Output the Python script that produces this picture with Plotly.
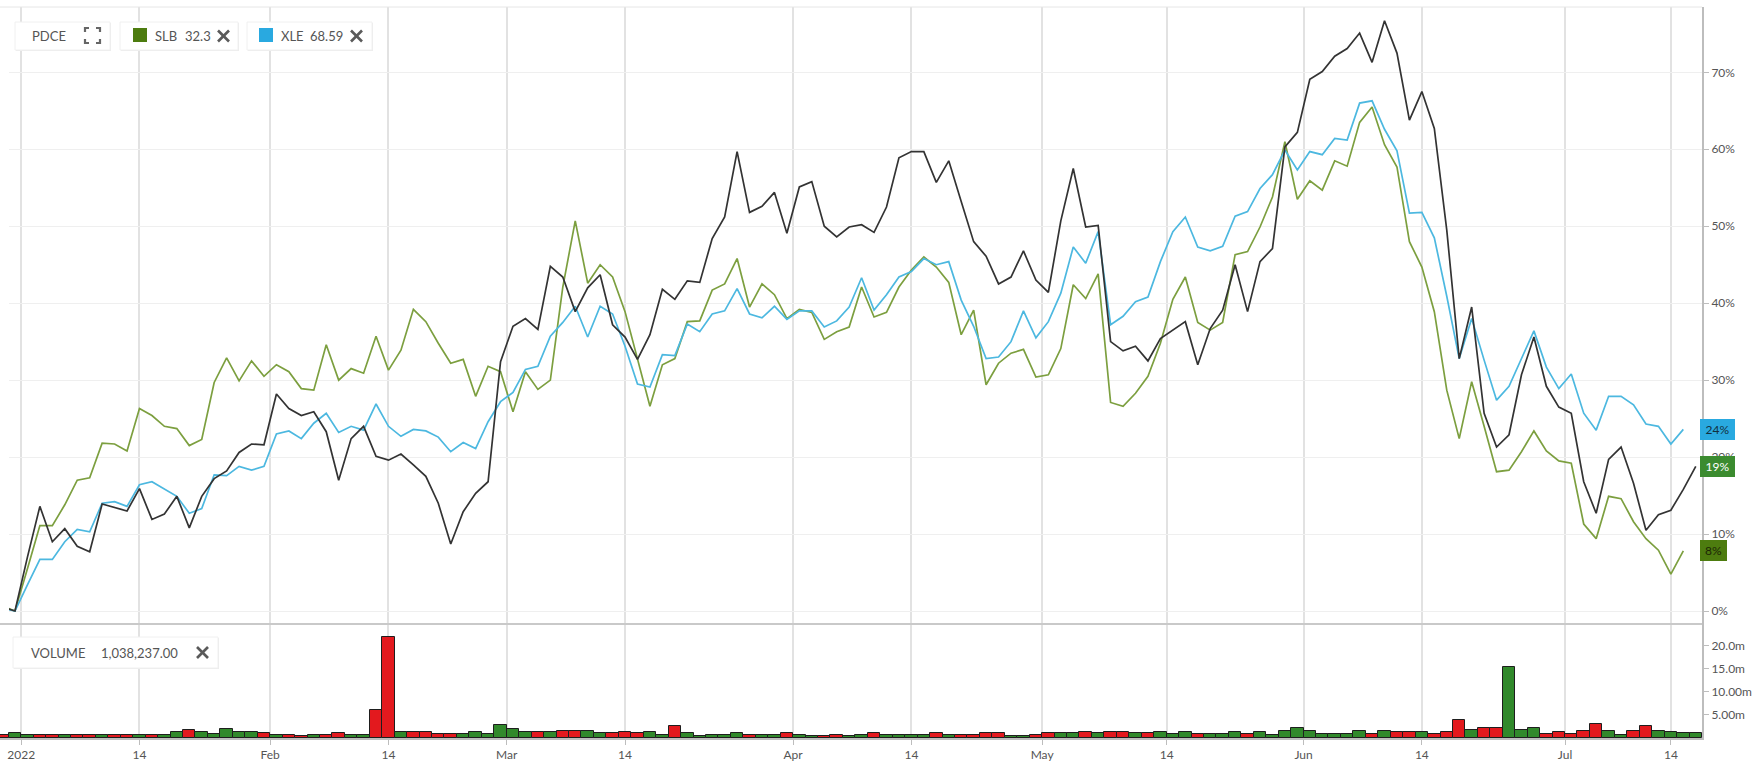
import pandas as pd
import plotly.graph_objects as go

# ---------------------------------------------------------------------------
# Trading sessions (NYSE), 2021-12-30 .. 2022-07-18
# ---------------------------------------------------------------------------
HOLIDAYS = ["2022-01-17", "2022-02-21", "2022-04-15", "2022-05-30", "2022-06-20", "2022-07-04"]
sessions = pd.DatetimeIndex(
    [d for d in pd.bdate_range("2021-12-30", "2022-07-18") if d.strftime("%Y-%m-%d") not in HOLIDAYS]
)

# Percent change since 2021-12-31 close
pdce_pct = [
    0.5, 0.0, 7.0, 13.6, 9.0, 10.7, 8.4, 7.7, 13.9, 13.4,
    13.0, 15.9, 11.9, 12.6, 14.9, 10.8, 14.9, 17.2, 18.2, 20.6,
    21.7, 21.6, 28.2, 26.3, 25.4, 25.9, 23.3, 17.0, 22.4, 24.0,
    20.1, 19.6, 20.4, 19.0, 17.5, 14.0, 8.7, 12.9, 15.3, 16.8,
    32.4, 37.0, 38.0, 36.6, 44.8, 43.4, 38.9, 42.0, 43.7, 37.2,
    35.6, 32.7, 35.9, 41.8, 40.5, 42.9, 42.7, 48.4, 51.2, 59.7,
    51.8, 52.6, 54.4, 49.1, 55.1, 55.8, 50.0, 48.6, 49.9, 50.2,
    49.2, 52.5, 58.9, 59.7, 59.7, 55.7, 58.5, 53.2, 48.0, 46.1,
    42.5, 43.4, 46.8, 43.0, 41.4, 50.7, 57.5, 49.9, 50.1, 35.0,
    33.8, 34.4, 32.5, 35.4, 36.5, 37.6, 32.0, 36.7, 39.1, 45.0,
    38.9, 45.4, 47.1, 60.3, 62.2, 69.1, 70.1, 72.1, 73.1, 75.1,
    71.3, 76.7, 72.5, 63.8, 67.5, 62.7, 49.5, 32.8, 39.5, 25.7,
    21.3, 22.9, 30.7, 35.6, 29.2, 26.5, 25.7, 16.8, 12.7, 19.7,
    21.3, 16.6, 10.5, 12.5, 13.1, 15.8, 18.8,
]

xle_pct = [
    0.4, 0.0, 3.4, 6.7, 6.7, 9.0, 10.6, 10.3, 14.0, 14.2,
    13.6, 16.4, 16.8, 15.9, 14.9, 12.7, 13.3, 17.7, 17.6, 18.8,
    18.3, 18.8, 23.0, 23.4, 22.4, 24.4, 25.7, 23.2, 24.0, 23.5,
    26.9, 24.0, 22.7, 23.6, 23.4, 22.6, 20.7, 21.9, 21.1, 24.6,
    27.2, 28.4, 31.4, 31.8, 35.7, 37.5, 39.6, 35.6, 39.6, 38.6,
    34.4, 29.5, 29.1, 33.3, 33.2, 37.3, 36.3, 38.6, 39.0, 41.9,
    38.6, 38.1, 39.6, 37.9, 39.0, 39.0, 36.9, 37.7, 39.5, 43.3,
    39.1, 41.1, 43.4, 44.1, 45.8, 45.0, 45.4, 40.4, 37.0, 32.8,
    33.0, 35.0, 39.0, 35.5, 37.6, 41.3, 47.3, 45.2, 49.3, 37.2,
    38.3, 40.2, 40.8, 45.4, 49.3, 51.2, 47.3, 46.8, 47.4, 51.3,
    51.9, 54.9, 56.7, 59.9, 57.3, 59.7, 59.3, 61.4, 61.2, 66.0,
    66.3, 62.6, 59.8, 51.7, 51.8, 48.5, 40.9, 32.8, 38.0, 32.6,
    27.4, 29.2, 32.8, 36.4, 31.7, 28.9, 30.8, 25.7, 23.5, 27.9,
    27.9, 26.8, 24.3, 24.0, 21.7, 23.6,
]

slb_pct = [
    0.6, 0.0, 5.5, 11.1, 11.1, 13.8, 17.0, 17.3, 21.8, 21.7,
    20.8, 26.3, 25.4, 24.0, 23.7, 21.5, 22.3, 29.7, 32.9, 29.9,
    32.5, 30.5, 32.0, 31.1, 28.9, 28.7, 34.6, 30.0, 31.5, 30.9,
    35.7, 31.3, 33.9, 39.2, 37.6, 34.8, 32.2, 32.7, 27.9, 31.8,
    31.1, 25.9, 31.1, 28.8, 30.0, 42.1, 50.7, 42.6, 45.0, 43.4,
    38.9, 32.8, 26.6, 32.0, 32.8, 37.6, 37.7, 41.7, 42.5, 45.8,
    39.5, 42.5, 41.1, 38.0, 39.2, 38.8, 35.3, 36.3, 36.9, 42.1,
    38.2, 38.8, 42.1, 44.3, 46.0, 44.7, 42.7, 35.9, 39.1, 29.4,
    32.2, 33.5, 34.0, 30.4, 30.7, 34.1, 42.4, 40.6, 43.8, 27.1,
    26.6, 28.3, 30.5, 34.8, 40.5, 43.4, 37.5, 36.5, 37.5, 46.3,
    46.7, 49.9, 53.8, 61.0, 53.5, 55.9, 54.7, 58.5, 57.8, 63.5,
    65.5, 60.6, 57.7, 48.0, 44.7, 38.9, 28.7, 22.4, 29.8, 24.0,
    18.1, 18.3, 20.7, 23.4, 20.8, 19.5, 19.2, 11.3, 9.4, 14.9,
    14.6, 11.6, 9.4, 7.9, 4.8, 7.8,
]

# PDCE daily volume, millions of shares
volume_m = [
    0.55, 1.1, 0.75, 0.75, 0.75, 0.75, 0.55, 0.75, 0.75, 0.75,
    0.75, 0.55, 0.75, 0.75, 1.35, 1.7, 1.35, 0.9, 2.0, 1.35,
    1.35, 1.0, 0.6, 0.7, 0.4, 0.75, 0.75, 1.0, 0.7, 0.7,
    6.0, 21.9, 1.35, 1.35, 1.35, 0.9, 0.9, 0.9, 1.35, 0.9,
    2.8, 2.0, 1.25, 1.25, 1.25, 1.6, 1.6, 1.6, 1.1, 1.0,
    1.35, 1.0, 1.35, 0.6, 2.55, 1.0, 0.4, 0.6, 0.6, 1.0,
    0.6, 0.6, 0.6, 1.0, 0.75, 0.4, 0.4, 0.6, 0.4, 0.6,
    1.0, 0.6, 0.6, 0.6, 0.6, 1.0, 0.6, 0.6, 0.6, 1.0,
    1.0, 0.4, 0.4, 0.6, 1.0, 1.0, 1.0, 1.35, 1.0, 1.35,
    1.35, 1.0, 1.0, 1.26, 0.97, 1.26, 0.9, 0.9, 0.9, 1.26,
    0.9, 1.26, 0.61, 1.62, 2.2, 1.62, 0.97, 0.97, 0.97, 1.62,
    0.97, 1.62, 1.26, 1.26, 1.26, 0.97, 1.26, 4.0, 1.84, 2.2,
    2.2, 15.3, 1.84, 2.2, 0.97, 1.33, 0.97, 1.62, 3.07, 1.62,
    0.61, 1.62, 2.56, 1.5, 1.3, 1.1, 1.038237,
]

# Session direction (u = up day, d = down day)
session_dir = "".join([
    "duudduddud", "duduuduuuu", "ududdudduu", "ddudddduuu",
    "uuududduud", "dduuduuuuu", "duuduudduu", "duuuududdd",
    "duudduudud", "duduuuduuu", "duuuuuuuuu", "duddudddud",
    "duuudddddu", "udduuuu",
])

SLB_LAST = "32.3"
XLE_LAST = "68.59"

PCT_TICKS = list(range(0, 80, 10))
VOL_TICKS = [5e6, 10e6, 15e6, 20e6]
VOL_TICK_TEXT = ["5.00m", "10.00m", "15.0m", "20.0m"]

# ---------------------------------------------------------------------------
# Styling
# ---------------------------------------------------------------------------
FONT = "Lato, 'Open Sans', sans-serif"
TEXT = "#555555"
C_PDCE = "#333333"
C_SLB_LINE = "#7c9f3f"
C_XLE_LINE = "#4cb8e0"
C_SLB = "#4d7c0f"
C_XLE = "#29a9e0"
C_UP = "#31892b"
C_DOWN = "#e3191e"
GRID_V = "#e2e2e2"
GRID_H = "#efefef"
AXIS = "#bdbdbd"

W, H = 1757, 762
L, R, T, B = 0, 55, 7, 24
PW, PH = W - L - R, H - T - B
SPLIT = 624  # pixel row separating price and volume panels


def fx(px):
    return (px - L) / PW


def fy(py):
    return (H - B - py) / PH


day = pd.Timedelta(days=1)
centres = sessions + day / 2          # each session drawn mid-slot

breaks = [dict(bounds=["sat", "mon"]), dict(values=HOLIDAYS)]

# Month / mid-month ticks
tick_pos, tick_txt = [], []
for m in range(1, 8):
    start = pd.Timestamp(2022, m, 1)
    tick_pos.append(sessions[sessions >= start][0])
    tick_txt.append("2022" if m == 1 else start.strftime("%b"))
    mid = pd.Timestamp(2022, m, 14)
    tick_pos.append(mid + day / 2 if mid in sessions else sessions[sessions >= mid][0])
    tick_txt.append("14")

x_end = sessions[-1] + day
main_start = centres[1] - 0.48 * day
vol_start = centres[1] - 1.2 * day

fig = go.Figure()

fig.add_trace(go.Scatter(x=centres[:len(slb_pct)], y=slb_pct, mode="lines",
                         line=dict(color=C_SLB_LINE, width=1.7), xaxis="x", yaxis="y", name="SLB"))
fig.add_trace(go.Scatter(x=centres[:len(xle_pct)], y=xle_pct, mode="lines",
                         line=dict(color=C_XLE_LINE, width=1.7), xaxis="x", yaxis="y", name="XLE"))
fig.add_trace(go.Scatter(x=centres[:len(pdce_pct)], y=pdce_pct, mode="lines",
                         line=dict(color=C_PDCE, width=1.7), xaxis="x", yaxis="y", name="PDCE"))

fig.add_trace(go.Bar(
    x=centres[:len(volume_m)],
    y=[v * 1e6 for v in volume_m],
    width=day.total_seconds() * 1000,
    marker=dict(color=[C_UP if s == "u" else C_DOWN for s in session_dir],
                line=dict(color="#1e1e1e", width=1)),
    xaxis="x2", yaxis="y2", name="VOLUME",
))

split_frac = fy(SPLIT)

fig.update_layout(
    width=W, height=H,
    margin=dict(l=L, r=R, t=T, b=B),
    paper_bgcolor="white", plot_bgcolor="white",
    font=dict(family=FONT, size=12, color=TEXT),
    showlegend=False, bargap=0,
    xaxis=dict(domain=[fx(9), 1], anchor="y", type="date", range=[main_start, x_end],
               rangebreaks=breaks, tickmode="array", tickvals=tick_pos, ticktext=tick_txt,
               showticklabels=False, ticks="", showgrid=True, gridcolor=GRID_V, gridwidth=1.5,
               zeroline=False, showline=False),
    yaxis=dict(domain=[split_frac, 1], anchor="x", side="right", range=[-1.69, 78.49],
               tickmode="array", tickvals=PCT_TICKS, ticktext=[f"{v}%" for v in PCT_TICKS],
               ticks="outside", ticklen=5, tickcolor=AXIS, showline=True, linecolor=AXIS,
               linewidth=2, showgrid=True, gridcolor=GRID_H, gridwidth=1, zeroline=False,
               tickfont=dict(size=12, color=TEXT)),
    xaxis2=dict(domain=[0, 1], anchor="y2", type="date", range=[vol_start, x_end],
                rangebreaks=breaks, tickmode="array", tickvals=tick_pos, ticktext=tick_txt,
                ticks="outside", ticklen=5, tickcolor=AXIS, showline=True, linecolor=AXIS,
                linewidth=2, showgrid=True, gridcolor=GRID_V, gridwidth=1.5, zeroline=False,
                tickfont=dict(size=12, color=TEXT)),
    yaxis2=dict(domain=[0, split_frac], anchor="x2", side="right", range=[0, 24.68e6],
                tickmode="array", tickvals=VOL_TICKS, ticktext=VOL_TICK_TEXT,
                ticks="outside", ticklen=5, tickcolor=AXIS, showline=True, linecolor=AXIS,
                linewidth=2, showgrid=False, zeroline=False, tickfont=dict(size=12, color=TEXT)),
)

shapes = [
    # panel frame lines
    dict(type="line", xref="paper", yref="paper", x0=0, x1=1, y0=1, y1=1,
         line=dict(color="#e6e6e6", width=1)),
    dict(type="line", xref="paper", yref="paper", x0=0, x1=1, y0=split_frac, y1=split_frac,
         line=dict(color="#c9c9c9", width=2)),
]


def box(x0, x1, y0, y1):
    shapes.append(dict(type="rect", xref="paper", yref="paper", layer="above",
                       x0=fx(x0 + 1), x1=fx(x1 + 1), y0=fy(y1 + 1), y1=fy(y0 + 1),
                       fillcolor="#ededed", line=dict(width=0)))
    shapes.append(dict(type="rect", xref="paper", yref="paper", layer="above",
                       x0=fx(x0), x1=fx(x1), y0=fy(y1), y1=fy(y0),
                       fillcolor="white", line=dict(color="#f0f0f0", width=1)))


def swatch(x0, y0, size, color):
    shapes.append(dict(type="rect", xref="paper", yref="paper", layer="above",
                       x0=fx(x0), x1=fx(x0 + size), y0=fy(y0 + size), y1=fy(y0),
                       fillcolor=color, line=dict(width=0)))


def close_icon(cx, cy, half=5.5):
    for sgn in (1, -1):
        shapes.append(dict(type="line", xref="paper", yref="paper", layer="above",
                           x0=fx(cx - half), x1=fx(cx + half),
                           y0=fy(cy - sgn * half), y1=fy(cy + sgn * half),
                           line=dict(color="#5a5a5a", width=2.6)))


def path(points):
    return "M " + " L ".join(f"{fx(px):.5f},{fy(py):.5f}" for px, py in points)


def expand_icon(x0, y0, size=15, arm=4):
    x1, y1 = x0 + size, y0 + size
    corners = [
        [(x0, y0 + arm), (x0, y0), (x0 + arm, y0)],
        [(x1 - arm, y0), (x1, y0), (x1, y0 + arm)],
        [(x0, y1 - arm), (x0, y1), (x0 + arm, y1)],
        [(x1 - arm, y1), (x1, y1), (x1, y1 - arm)],
    ]
    for pts in corners:
        shapes.append(dict(type="path", xref="paper", yref="paper", layer="above",
                           path=path(pts), line=dict(color="#666666", width=2.2)))


# Header chips
box(15, 110, 22, 50)
box(120, 238, 22, 50)
box(247, 372, 22, 50)
box(13, 218, 637, 668)
expand_icon(85, 28)
swatch(133, 28, 14, C_SLB)
swatch(259, 28, 14, C_XLE)
close_icon(223.5, 36)
close_icon(356.5, 36)
close_icon(202.5, 652.5)

annotations = []


def label(text, px, py, size=13, color=TEXT):
    annotations.append(dict(text=text, xref="paper", yref="paper", x=fx(px), y=fy(py),
                            xanchor="left", yanchor="middle", showarrow=False,
                            font=dict(size=size, color=color, family=FONT)))


label("PDCE", 30, 36)
label("SLB", 153, 36)
label(SLB_LAST, 183, 36)
label("XLE", 279, 36)
label(XLE_LAST, 308, 36)
label("VOLUME", 29, 652.5)
label(f"{volume_m[-1] * 1e6:,.2f}", 99, 652.5)

# Last-value tags on the price axis
for series, bg, fg in [(xle_pct, C_XLE, "#12303f"), (pdce_pct, "#3b8b2f", "white"),
                       (slb_pct, C_SLB, "#1c2605")]:
    txt = f"{round(series[-1])}%"
    annotations.append(dict(text=txt, xref="paper", yref="y", x=fx(1700), y=series[-1],
                            xanchor="left", yanchor="middle", showarrow=False,
                            bgcolor=bg, bordercolor=bg, borderwidth=1, borderpad=2,
                            width=8 * len(txt) + 5,
                            font=dict(size=12, color=fg, family=FONT)))

fig.update_layout(shapes=shapes, annotations=annotations)

fig.write_html("out.html", config={"displayModeBar": False})
